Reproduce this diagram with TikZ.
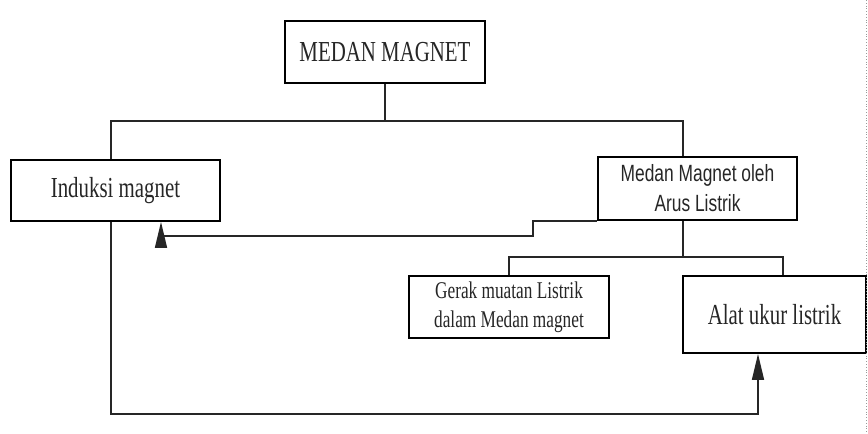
\documentclass[tikz,border=0pt]{standalone}
\usepackage{fontspec}
\setmainfont{Liberation Serif}[FakeStretch=0.72]
\newfontfamily\arusfont{Liberation Sans}[FakeStretch=0.74]
\usetikzlibrary{arrows.meta}

\begin{document}
\begin{tikzpicture}[
    x=1pt, y=-1pt,
    box/.style={draw, line width=1.8pt, inner sep=0pt, align=center, text=black!85},
    link/.style={line width=1.6pt, draw=black!85},
    >={Triangle[length=26pt, width=12pt]},
    bigtext/.style={font=\fontsize{29}{34}\selectfont},
    smalltext/.style={font=\fontsize{24}{29}\selectfont}
]
    \useasboundingbox (0,0) rectangle (868,434);

    % 节点定义 (5个方框)
    \node[box, bigtext, minimum width=200pt, minimum height=62pt] (medan) at (385, 52) {MEDAN MAGNET};
    \node[box, bigtext, minimum width=209pt, minimum height=61pt] (induksi) at (115.5, 190.5) {Induksi magnet};
    \node[box, minimum width=199pt, minimum height=63pt,
          font=\arusfont\fontsize{23.5}{30}\selectfont] (arus) at (697.5, 188.5) {Medan Magnet oleh\\Arus Listrik};
    \node[box, smalltext, minimum width=200pt, minimum height=62pt] (gerak) at (509, 307) {Gerak muatan Listrik\\dalam Medan magnet};
    \node[box, bigtext, minimum width=183pt, minimum height=77pt] (alat) at (774.5, 314.5) {Alat ukur listrik};

    % 分支点
    \coordinate (top) at (385, 121);
    \coordinate (mid) at (683, 257);

    % --- 上层分支 ---
    \draw[link] (medan) -- (top);
    \draw[link] ([xshift=-4.5pt]induksi.north) |- (top) -| ([xshift=-14.5pt]arus.north);

    % --- 下层分支 ---
    \draw[link] ([xshift=-14.5pt]arus.south) -- (mid);
    \draw[link] (gerak.north) |- (mid) -| ([xshift=8.5pt]alat.north);

    % --- 反馈箭头 ---
    \draw[link, ->] (arus.south west) -- ++(-64, 0) -- ++(0, 15) -| ([xshift=45.5pt]induksi.south);
    \draw[link, ->] ([xshift=-4.5pt]induksi.south) -- ++(0, 192) -| ([xshift=-16.5pt]alat.south);

    % 页面边线
    \draw[black!40, dotted, line width=0.8pt] (866, 0) -- (866, 434);

\end{tikzpicture}
\end{document}
